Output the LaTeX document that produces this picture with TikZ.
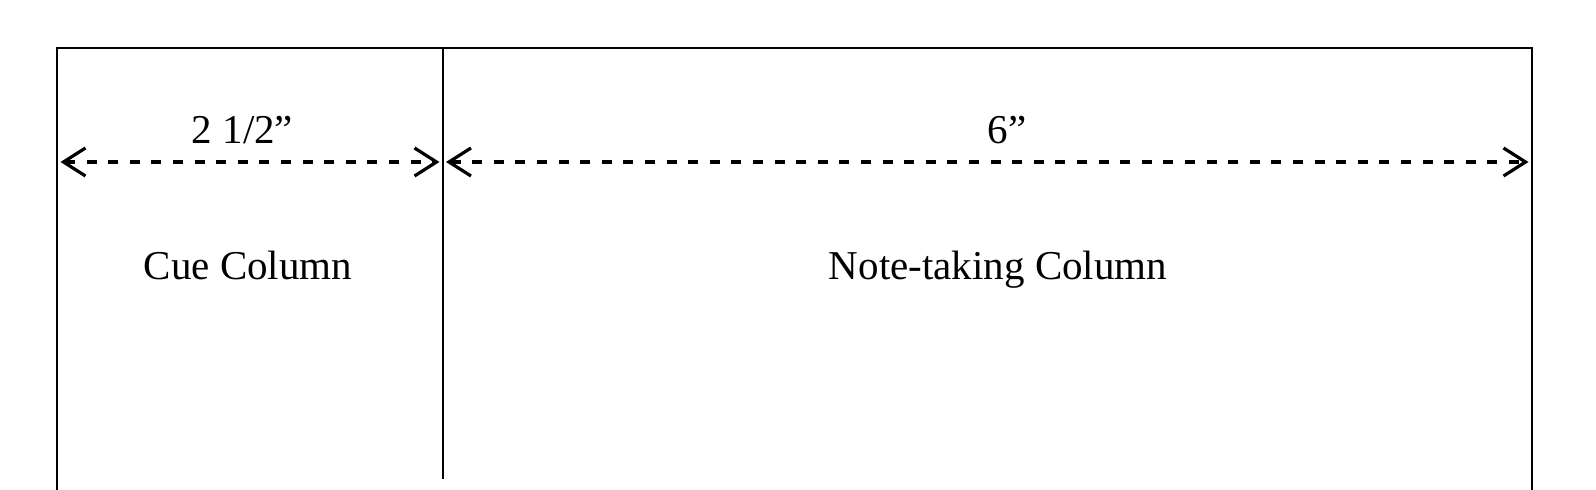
\documentclass[tikz,border=0pt]{standalone}
\usepackage{fontspec}
\setmainfont{Liberation Serif}
\usetikzlibrary{arrows.meta}

\tikzset{
  dimline/.style={line width=1.6pt, dash pattern=on 5pt off 5.8pt,
    {Straight Barb[length=11pt,width=14pt,line width=1.6pt]}-{Straight Barb[length=11pt,width=14pt,line width=1.6pt]}},
  label/.style={anchor=base, inner sep=0pt, font=\fontsize{20.5}{24}\selectfont}
}

\begin{document}
\begin{tikzpicture}[x=0.5pt, y=-0.5pt]
    \useasboundingbox (0,0) rectangle (1596,490);

    % Page frame
    \draw[line width=1pt] (56.5,495) -- (56.5,48) -- (1532,48) -- (1532,495);

    % Divider
    \draw[line width=1pt] (442.7,48) -- (442.7,479);

    % Widths
    \coordinate (cueL) at (60.5,162);
    \coordinate (cueR) at (439.5,162);
    \coordinate (noteL) at (446,162);
    \coordinate (noteR) at (1528.5,162);
    \draw[dimline] (cueL) -- (cueR);
    \draw[dimline] (noteL) -- (noteR);
    \node[label] (cuew) at (242.5,144) {2 1/2”};
    \node[label] (notew) at (1007,144) {6”};

    % Column names
    \node[label] (cue) at (248,280) {Cue Column};
    \node[label] (note) at (998,280) {Note-taking Column};
\end{tikzpicture}
\end{document}
